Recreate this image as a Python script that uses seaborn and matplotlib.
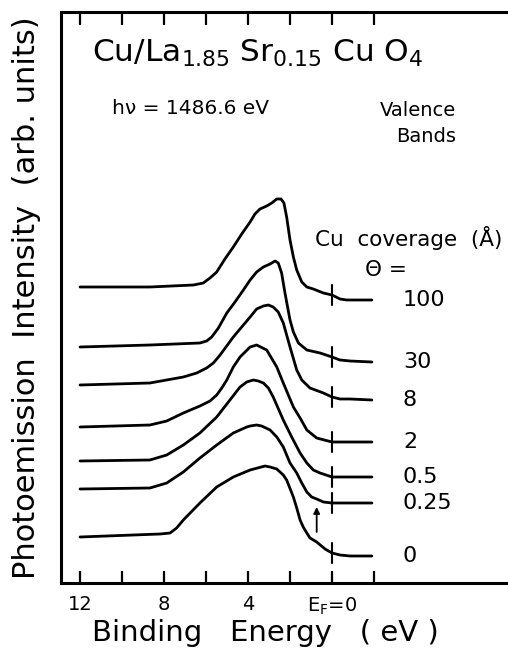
import numpy as np
import pandas as pd
import matplotlib
matplotlib.use("Agg")
import matplotlib.pyplot as plt
import seaborn as sns

# ---- data (binding energy in eV, intensity in arb. units) ----
coverages = ["100", "30", "8", "2", "0.5", "0.25", "0"]

e_100 = [12.0, 8.67, 6.6, 6.13, 5.81, 5.49, 5.10, 4.70, 4.30, 3.90, 3.67, 3.43, 3.11, 2.87, 2.63, 2.43, 2.29, 2.16, 2.00, 1.84, 1.68, 1.44, 1.20, 0.89, 0.41, 0.0, -0.38, -0.70, -1.9]
i_100 = [296, 296, 298, 300, 305, 311, 324, 336, 349, 361, 369, 374, 377, 380, 384, 384, 380, 366, 343, 326, 313, 301, 296, 294, 290, 288, 284, 283, 283]

e_30 = [12.0, 8.67, 6.29, 5.97, 5.73, 5.41, 5.01, 4.62, 4.22, 3.90, 3.59, 3.27, 2.95, 2.71, 2.56, 2.40, 2.24, 2.00, 1.84, 1.60, 1.20, 0.57, 0.0, -0.38, -0.86, -1.9]
i_30 = [236, 238, 240, 242, 246, 255, 270, 281, 293, 303, 311, 316, 319, 322, 320, 310, 290, 263, 251, 240, 233, 230, 226, 223, 222, 221]

e_8 = [12.0, 8.67, 7.08, 6.44, 5.97, 5.65, 5.33, 4.70, 4.22, 3.90, 3.59, 3.27, 3.03, 2.80, 2.56, 2.32, 2.00, 1.68, 1.44, 1.05, 0.41, 0.0, -0.38, -0.86, -1.9]
i_8 = [198, 200, 206, 210, 215, 220, 228, 246, 258, 266, 274, 277, 278, 276, 271, 260, 236, 213, 203, 195, 190, 186, 184, 184, 183]

e_2 = [12.0, 8.67, 7.87, 7.08, 6.29, 5.81, 5.49, 5.25, 5.01, 4.70, 4.38, 3.90, 3.59, 3.11, 2.63, 2.32, 1.84, 1.52, 1.20, 0.73, 0.0, -0.86, -1.9]
i_2 = [156, 158, 162, 170, 177, 182, 188, 195, 203, 216, 226, 236, 238, 233, 216, 200, 176, 165, 153, 145, 141, 141, 141]

e_05 = [12.0, 8.67, 7.87, 7.08, 6.29, 5.49, 4.86, 4.38, 4.06, 3.75, 3.51, 3.27, 3.03, 2.80, 2.32, 1.92, 1.52, 1.20, 0.89, 0.57, 0.0, -0.86, -1.9]
i_05 = [122, 123, 128, 138, 150, 166, 183, 196, 201, 203, 202, 200, 195, 186, 163, 146, 130, 120, 113, 110, 106, 106, 106]

e_025 = [12.0, 8.67, 7.87, 7.08, 6.29, 5.49, 4.70, 4.06, 3.90, 3.59, 3.35, 2.95, 2.63, 2.32, 2.00, 1.68, 1.44, 1.20, 0.97, 0.73, 0.41, 0.0, -0.86, -1.9]
i_025 = [94, 95, 100, 111, 125, 138, 150, 156, 157, 158, 157, 153, 146, 136, 120, 110, 100, 91, 86, 84, 81, 80, 80, 80]

e_0 = [12.0, 8.19, 7.71, 7.40, 7.08, 6.29, 5.49, 4.70, 3.90, 3.19, 2.95, 2.63, 2.32, 2.16, 1.84, 1.68, 1.52, 1.37, 1.20, 1.05, 0.73, 0.33, 0.0, -0.38, -0.86, -1.9]
i_0 = [46, 49, 50, 55, 63, 80, 96, 106, 113, 117, 116, 114, 108, 103, 86, 75, 63, 56, 50, 45, 41, 34, 30, 28, 27, 27]

energies = [e_100, e_30, e_8, e_2, e_05, e_025, e_0]
intensities = [i_100, i_30, i_8, i_2, i_05, i_025, i_0]

tick_positions = [12, 10, 8, 6, 4, 2, 0, -2]
tick_labels = ["12", "", "8", "", "4", "", "E$_\\mathrm{F}$=0", ""]

arrow_energy = 0.73
arrow_from, arrow_to = 51, 76

# ---- build long-format table ----
rows = []
for cov, e, i in zip(coverages, energies, intensities):
    for ee, ii in zip(e, i):
        rows.append({"energy": ee, "intensity": ii, "coverage": cov})
df = pd.DataFrame(rows)

sns.set_style("white")
plt.rcParams["font.family"] = ["DejaVu Sans"]
plt.rcParams["mathtext.fontset"] = "dejavusans"
plt.rcParams["text.color"] = "black"
plt.rcParams["axes.labelcolor"] = "black"
plt.rcParams["xtick.color"] = "black"

W, H = 508, 662
fig = plt.figure(figsize=(W / 100, H / 100), dpi=100)
ax = fig.add_axes([61 / W, 1 - 583 / H, (W - 61) / W, (583 - 12) / H])

sns.lineplot(data=df, x="energy", y="intensity", hue="coverage",
             hue_order=coverages, palette=["black"] * len(coverages),
             estimator=None, legend=False, linewidth=2.0, ax=ax)
for ln in ax.lines:
    ln.set_solid_joinstyle("round")

ax.set_xlim(12.905, -8.38)
ax.set_ylim(0, 571)

# E_F markers on every curve
for e, i in zip(energies, intensities):
    y0 = np.interp(0.0, e[::-1], i[::-1])
    ax.plot([0, 0], [y0 - 10, y0 + 10], color="black", lw=1.5)

# curve labels
for cov, i in zip(coverages, intensities):
    ax.text(-3.38, i[-1], cov, fontsize=16, ha="left", va="center")

ax.text(0.81, 345, "Cu  coverage  (Å)", fontsize=15.5, ha="left", va="center")
ax.text(-1.57, 313, "Θ =", fontsize=15.5, ha="left", va="center")

ax.text(11.44, 521, "Cu/La$_{1.85}$ Sr$_{0.15}$ Cu O$_4$", fontsize=22.5,
        ha="left", va="baseline")
ax.text(10.49, 475, "hν = 1486.6 eV", fontsize=14.5, ha="left", va="center")
ax.text(-5.9, 473, "Valence", fontsize=14, ha="right", va="center")
ax.text(-5.9, 446, "Bands", fontsize=14, ha="right", va="center")

ax.annotate("", xy=(arrow_energy, arrow_to), xytext=(arrow_energy, arrow_from),
            arrowprops=dict(arrowstyle="-|>", color="black", lw=1.3,
                            mutation_scale=9, shrinkA=0, shrinkB=0))

# axes styling
for side in ["left", "top", "bottom"]:
    ax.spines[side].set_visible(True)
    ax.spines[side].set_linewidth(2.2)
    ax.spines[side].set_color("black")
ax.spines["right"].set_visible(False)

ax.set_xticks(tick_positions)
ax.set_xticklabels(tick_labels)
ax.set_yticks([])
ax.tick_params(axis="x", which="major", direction="in", length=9, width=1.6,
               top=True, bottom=True, labelsize=14, pad=9, color="black",
               labelcolor="black")

ax.set_xlabel("Binding   Energy   ( eV )", fontsize=21)
ax.xaxis.set_label_coords((265 - 61) / 447, (583 - 633) / 571)
ax.xaxis.label.set_va("center")
ax.set_ylabel("Photoemission  Intensity  (arb. units)", fontsize=22)
ax.yaxis.set_label_coords((27 - 61) / 447, (583 - 298) / 571)
ax.yaxis.label.set_va("center")

fig.savefig("out.png", dpi=100)
